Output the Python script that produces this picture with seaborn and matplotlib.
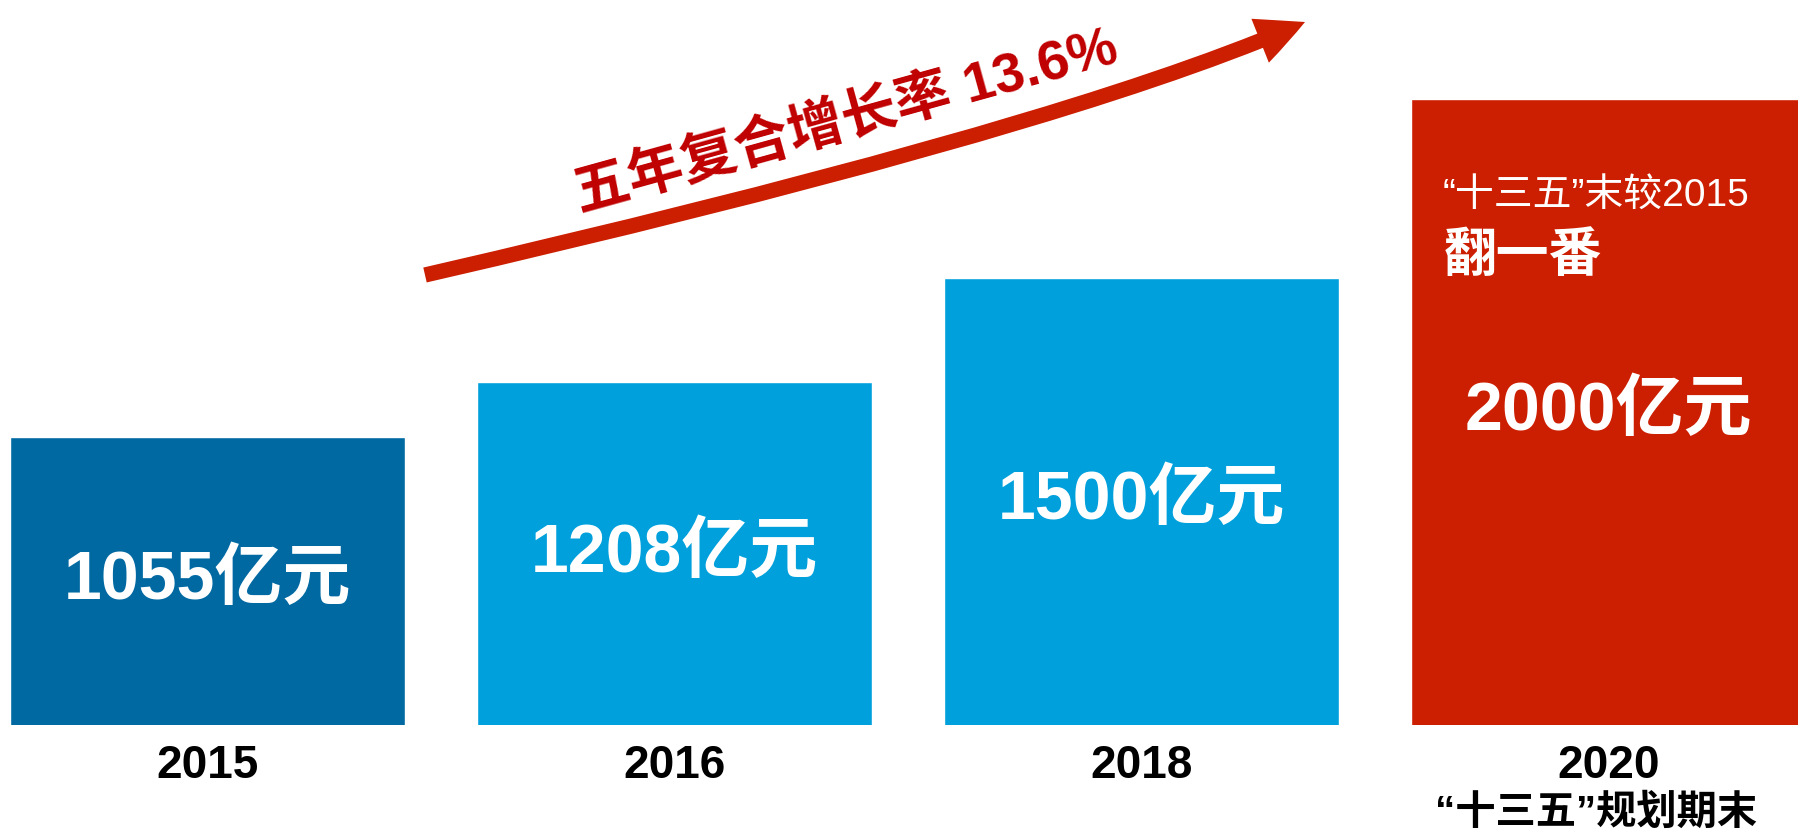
import matplotlib
matplotlib.use("Agg")
import matplotlib.pyplot as plt
from matplotlib.patches import FancyArrowPatch, ArrowStyle
from matplotlib.path import Path
import seaborn as sns

# Data
years = ["2015", "2016", "2018", "2020"]
values = [1055, 1208, 1500, 2000]
bar_labels = ["1055亿元", "1208亿元", "1500亿元", "2000亿元"]
bar_colors = ["#0069a2", "#00a0dc", "#00a0dc", "#cc1e00"]
growth_text = "五年复合增长率 13.6%"
note_line1 = "“十三五”末较2015"
note_line2 = "翻一番"
period_note = "“十三五”规划期末"

sns.set_style("white")
FONTS = ["Liberation Sans", "Noto Sans CJK SC", "DejaVu Sans"]
plt.rcParams["font.family"] = FONTS

W, H = 1798, 833
fig = plt.figure(figsize=(W / 100, H / 100), dpi=100)
ax = fig.add_axes([0, 108 / H, 1, 725 / H])

sns.barplot(x=years, y=values, hue=years, palette=bar_colors, width=0.846,
            saturation=1, legend=False, ax=ax)

ybot = 250
ytop = ybot + (max(values) - ybot) * 725 / 626
ax.set_ylim(ybot, ytop)
ax.set_xlim(-0.445, 3.405)
sns.despine(ax=ax, left=True, bottom=True)
ax.set_yticks([])
ax.set_xlabel("")
ax.set_ylabel("")
ax.tick_params(axis="x", length=0, pad=14)
ax.set_xticks(range(len(years)))
ax.set_xticklabels(years, fontsize=33, fontweight="bold", color="black")

# value labels inside the bars
for i, (v, lab) in enumerate(zip(values, bar_labels)):
    ax.text(i, (ybot + v) / 2, lab, ha="center", va="center", fontsize=49,
            fontweight="bold", color="white", family=FONTS)

# notes inside the 2020 bar
ax.annotate(note_line1, xy=(3, values[3]), xytext=(-120, -70),
            textcoords="offset points", ha="left", va="center",
            fontsize=28, color="white", family=FONTS)
ax.annotate(note_line2, xy=(3, values[3]), xytext=(-119, -114),
            textcoords="offset points", ha="left", va="center",
            fontsize=38, fontweight="bold", color="white", family=FONTS)

# second line under the 2020 tick
ax.annotate(period_note, xy=(3, ybot), xytext=(-9, -63),
            textcoords="offset points", ha="center", va="center",
            fontsize=29, fontweight="bold", color="black", family=FONTS)

# growth arrow
def fpt(x, y):
    return (x / W, 1 - y / H)

arrow_path = Path([fpt(425, 275), fpt(1064, 128), fpt(1305, 22)],
                  [Path.MOVETO, Path.CURVE3, Path.CURVE3])
arrow = FancyArrowPatch(path=arrow_path,
                        arrowstyle=ArrowStyle.Simple(head_length=35, head_width=34, tail_width=11),
                        mutation_scale=1, transform=fig.transFigure,
                        color="#cc1e00", lw=0)
fig.add_artist(arrow)

fig.text(846 / W, 1 - 122 / H, growth_text, rotation=15.5, rotation_mode="anchor",
         ha="center", va="center", fontsize=40, fontweight="bold",
         color="#c00000", family=FONTS)

fig.savefig("out.png", dpi=100)
